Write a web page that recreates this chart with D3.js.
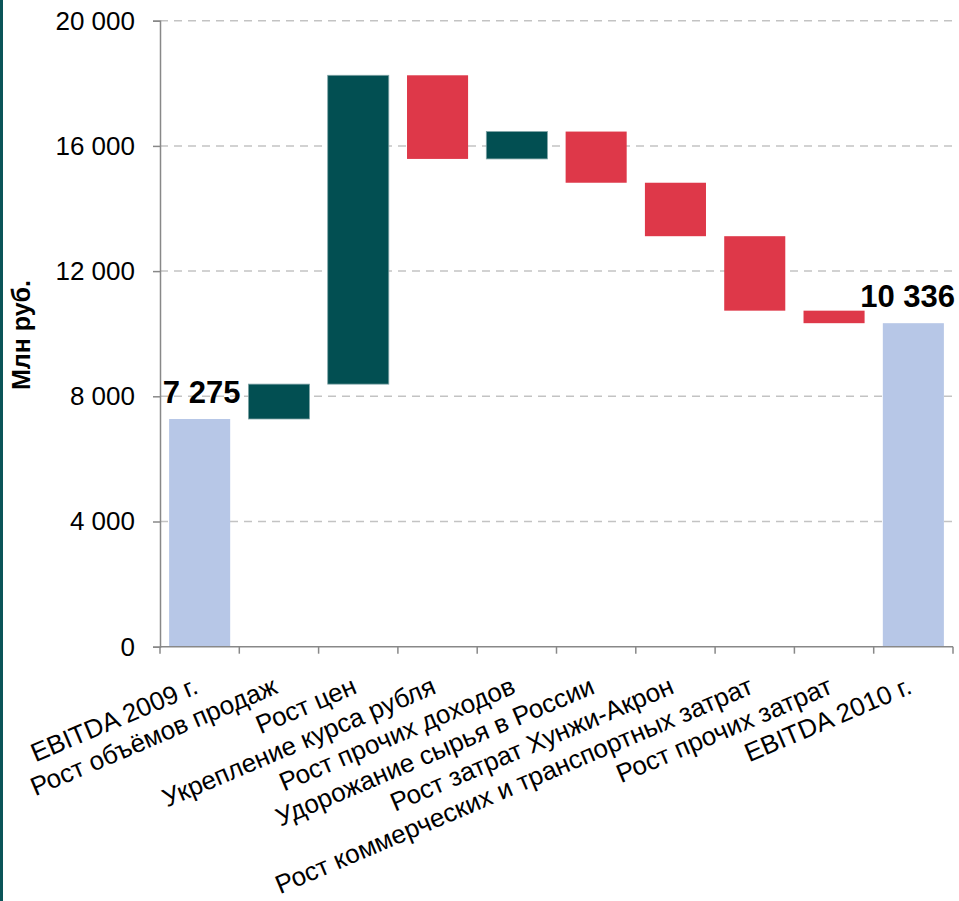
<!DOCTYPE html>
<html>
<head>
<meta charset="utf-8">
<script src="https://cdn.jsdelivr.net/npm/d3@7"></script>
<style>
  html, body { margin: 0; padding: 0; background: #fff; }
  svg { display: block; font-family: "Liberation Sans", Arial, sans-serif; }
</style>
</head>
<body>
<svg id="chart" width="959" height="901"></svg>
<script>
// EBITDA bridge, 2009 -> 2010, million roubles
const categories = [
  "EBITDA 2009 г.",
  "Рост объёмов продаж",
  "Рост цен",
  "Укрепление курса рубля",
  "Рост прочих доходов",
  "Удорожание сырья в России",
  "Рост затрат Хунжи-Акрон",
  "Рост коммерческих и транспортных затрат",
  "Рост прочих затрат",
  "EBITDA 2010 г."
];
// totals are absolute levels, the rest are changes
const values = [7275, 1114, 9867, -2672, 874, -1635, -1708, -2379, -400, 10336];
const kinds  = ["total", "step", "step", "step", "step", "step", "step", "step", "step", "total"];
const yTicks = [0, 4000, 8000, 12000, 16000, 20000];
const yTitle = "Млн руб.";

const colors = { total: "#B7C7E7", up: "#024F52", down: "#DE3849" };

const svg = d3.select("#chart");
const plotLeft = 160, plotRight = 953, plotTop = 20.7, plotBottom = 646.7;

const x = d3.scaleBand().domain(categories).range([plotLeft, plotRight])
  .paddingInner(0.23).paddingOuter(0.115);
const y = d3.scaleLinear().domain([0, 20000]).range([plotBottom, plotTop]);

const ru = d3.formatLocale({ decimal: ",", thousands: " ", grouping: [3], currency: ["", ""] });
const fmt = ru.format(",d");

// running levels for the bridge
let level = 0;
const bars = categories.map((c, i) => {
  let y0, y1, kind;
  if (kinds[i] === "total") {
    y0 = 0; y1 = values[i]; level = values[i]; kind = "total";
  } else {
    y0 = level; y1 = level + values[i]; level = y1;
    kind = values[i] >= 0 ? "up" : "down";
  }
  return { c, y0, y1, kind, v: values[i], total: kinds[i] === "total" };
});

// frame stripe on the left
svg.append("rect").attr("x", 0).attr("y", 0).attr("width", 3).attr("height", 901).attr("fill", "#0B5458");

// gridlines
svg.append("g").selectAll("line").data(yTicks.filter(t => t > 0)).join("line")
  .attr("x1", plotLeft).attr("x2", plotRight)
  .attr("y1", d => y(d)).attr("y2", d => y(d))
  .attr("stroke", "#C3C3C3").attr("stroke-width", 1.5).attr("stroke-dasharray", "8,6");

// bars
svg.append("g").selectAll("rect").data(bars).join("rect")
  .attr("x", d => x(d.c))
  .attr("width", x.bandwidth())
  .attr("y", d => y(Math.max(d.y0, d.y1)))
  .attr("height", d => Math.abs(y(d.y0) - y(d.y1)))
  .attr("fill", d => colors[d.kind])
  .attr("stroke", d => d.kind === "up" ? "#7FA3A5" : "none")
  .attr("stroke-width", 0.8);

// value labels over the totals, kept inside the drawing
svg.append("g").selectAll("text").data(bars.filter(d => d.total)).join("text")
  .attr("x", d => x(d.c) + x.bandwidth() / 2 + 2)
  .attr("y", d => y(d.y1) - 16)
  .attr("text-anchor", "middle")
  .attr("font-size", 31).attr("font-weight", "bold").attr("fill", "#000")
  .text(d => fmt(d.v))
  .each(function (d) {
    const w = this.getComputedTextLength();
    const cx = Math.min(x(d.c) + x.bandwidth() / 2 + 2, 955 - w / 2);
    d3.select(this).attr("x", cx);
  });

// y axis
const yAxis = svg.append("g").attr("transform", `translate(${plotLeft},0)`)
  .call(d3.axisLeft(y).tickValues(yTicks).tickSize(7).tickPadding(18).tickFormat(fmt));
yAxis.select(".domain").attr("stroke", "#888").attr("stroke-width", 1.5);
yAxis.selectAll(".tick line").attr("stroke", "#888").attr("stroke-width", 1.5);
yAxis.selectAll(".tick text").attr("font-size", 26).attr("fill", "#000")
  .attr("font-family", "Liberation Sans, Arial, sans-serif");

// x axis with ticks on category boundaries
const xg = svg.append("g");
xg.append("line").attr("x1", plotLeft).attr("x2", plotRight).attr("y1", plotBottom).attr("y2", plotBottom)
  .attr("stroke", "#888").attr("stroke-width", 1.5);
const step = (plotRight - plotLeft) / categories.length;
xg.selectAll("line.tk").data(d3.range(categories.length + 1)).join("line").attr("class", "tk")
  .attr("x1", i => plotLeft + i * step).attr("x2", i => plotLeft + i * step)
  .attr("y1", plotBottom).attr("y2", plotBottom + 7)
  .attr("stroke", "#888").attr("stroke-width", 1.5);

// rotated category labels, anchored at their ends
xg.selectAll("text").data(categories).join("text")
  .attr("transform", d => `translate(${x(d) + x.bandwidth() / 2},${plotBottom + 46}) rotate(-23)`)
  .attr("text-anchor", "end")
  .attr("font-size", 26).attr("fill", "#000")
  .text(d => d);

// y axis title
svg.append("text")
  .attr("transform", "translate(30,335) rotate(-90)")
  .attr("text-anchor", "middle")
  .attr("font-size", 25).attr("font-weight", "bold").attr("fill", "#000")
  .text(yTitle);
</script>
</body>
</html>
